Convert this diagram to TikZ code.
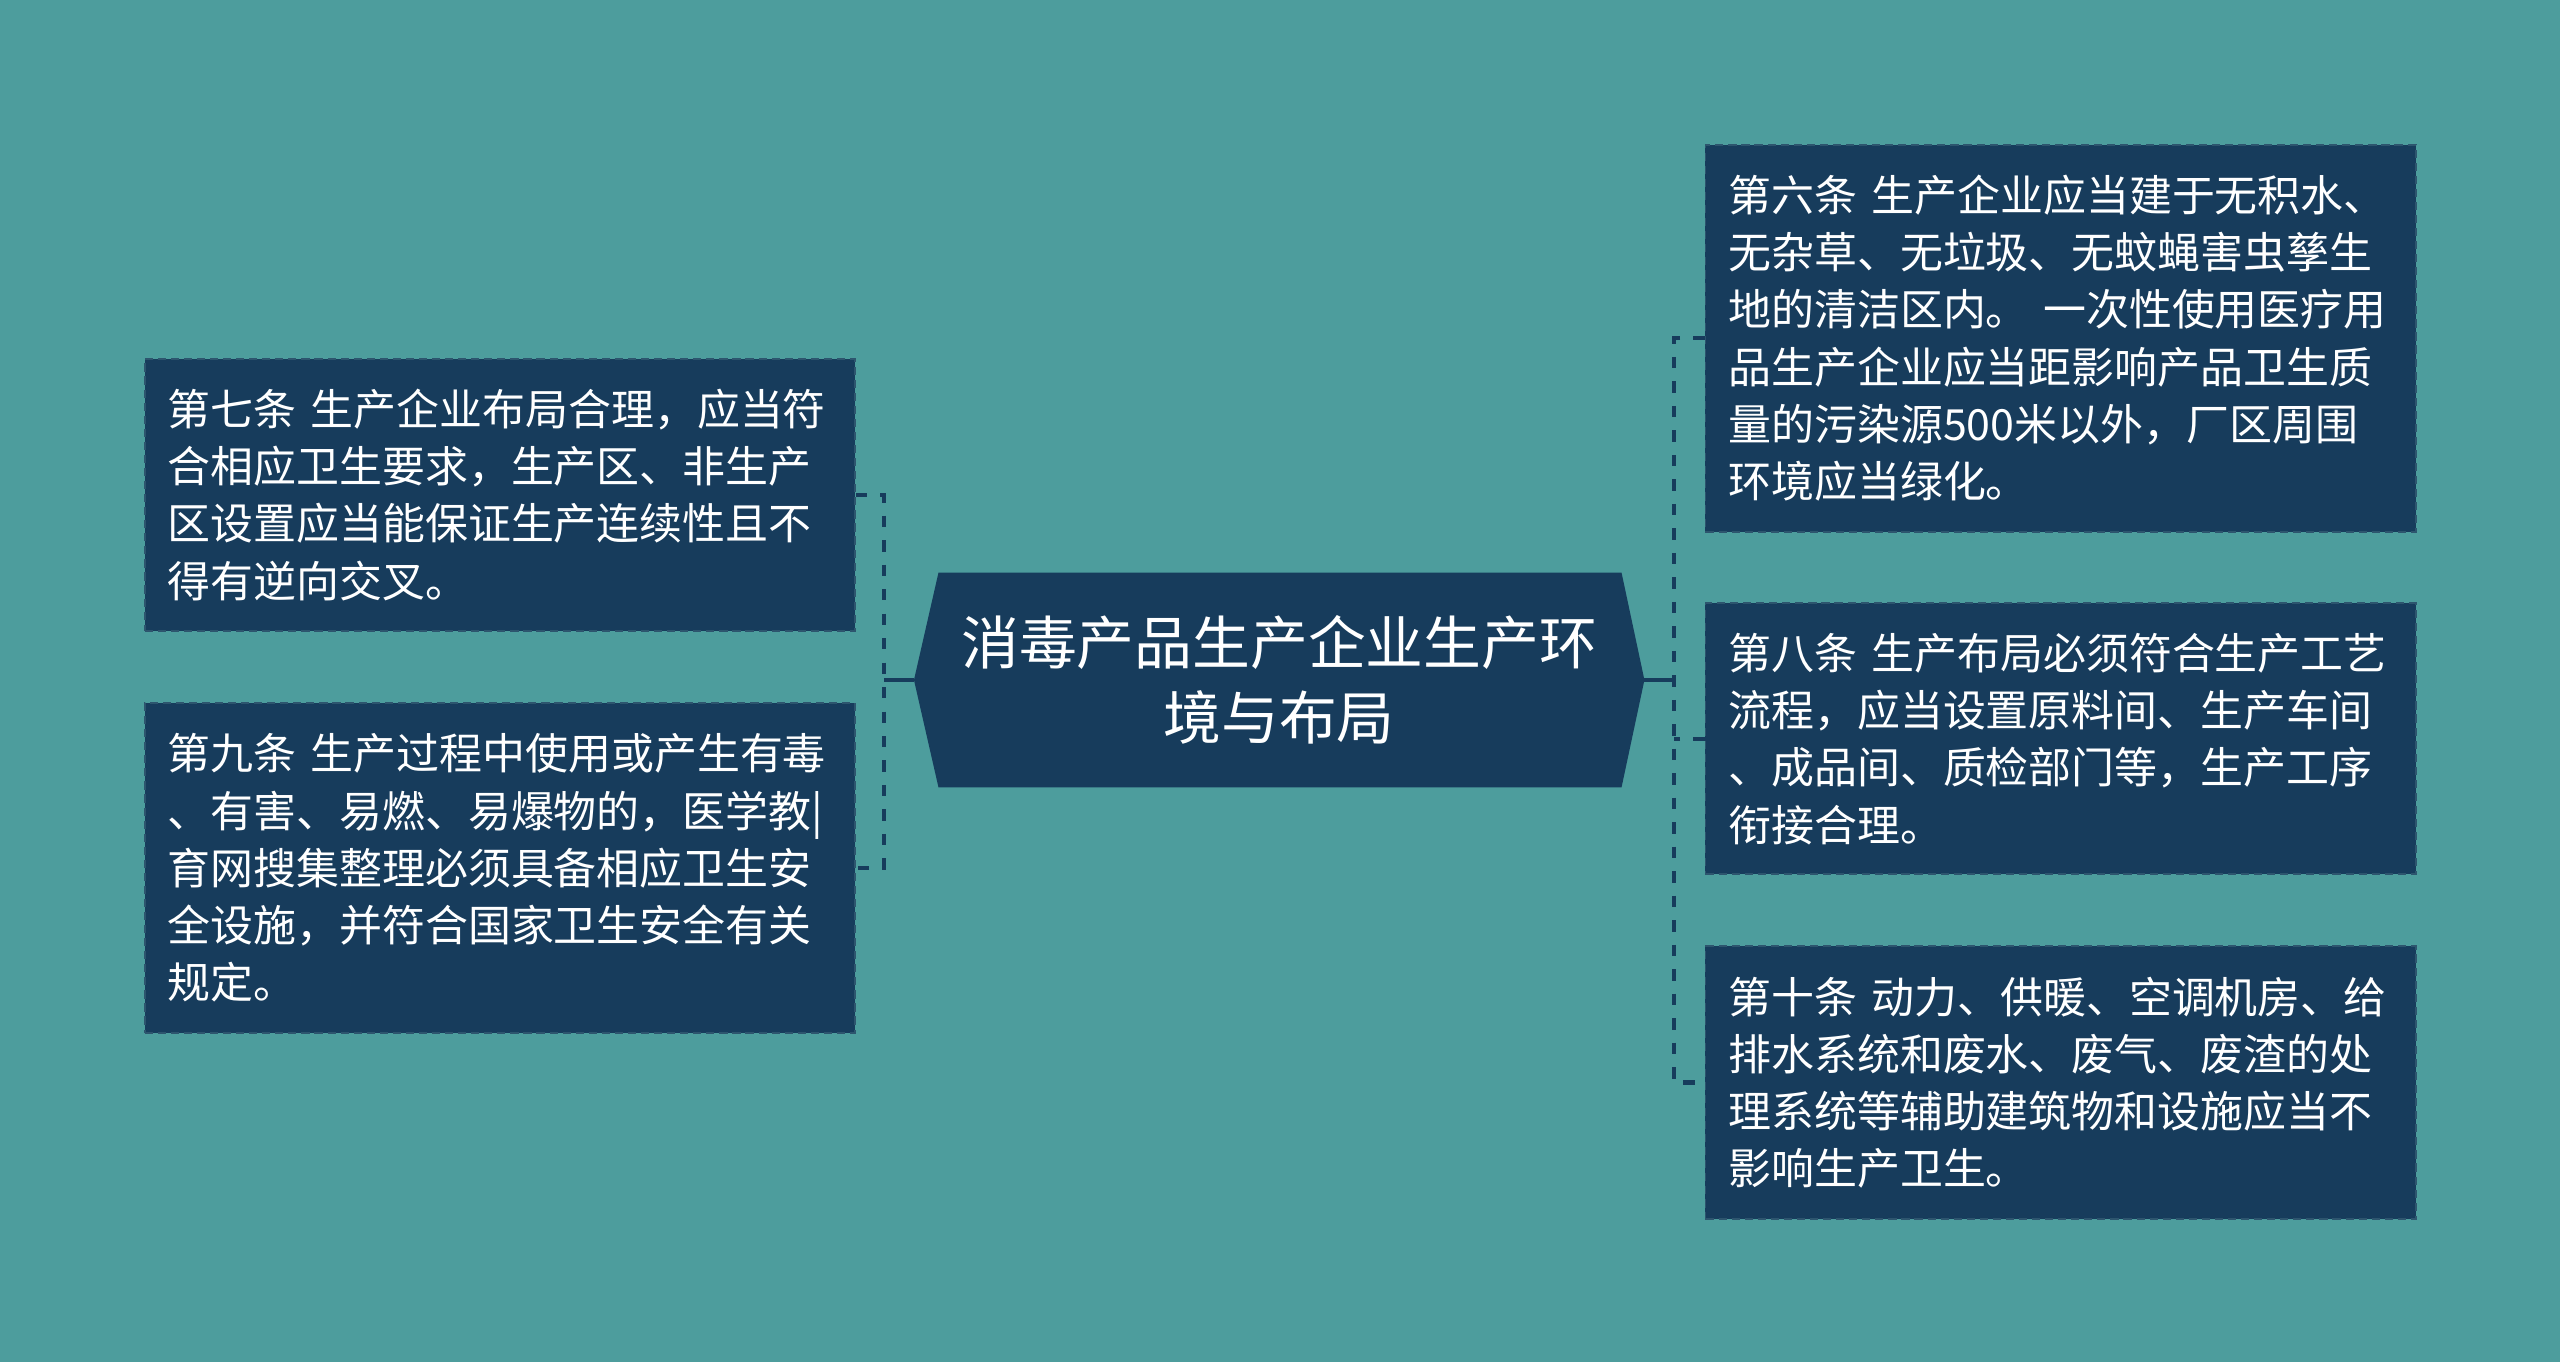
\documentclass[tikz,border=0pt]{standalone}
\usepackage{fontspec}
\newfontfamily\cjk{Noto Sans CJK SC}
\usetikzlibrary{backgrounds}
\definecolor{bgteal}{RGB}{77,157,157}
\definecolor{navy}{RGB}{23,60,92}
\definecolor{navyedge}{RGB}{45,85,110}
\tikzset{
  itembox/.style={fill=navy, draw=navyedge, dashed, dash pattern=on 5pt off 3pt, line width=1.2pt,
    text=white, font=\cjk\fontsize{26.3}{35}\selectfont, align=left,
    text width=407pt, inner xsep=14pt, inner ysep=0pt, anchor=north west},
  centertext/.style={text=white, font=\cjk\fontsize{35.4}{46}\selectfont, align=center,
    minimum width=447pt, minimum height=131pt, inner sep=0pt},
  conn/.style={draw=navy, line width=2.6pt, dash pattern=on 7pt off 8pt},
  connsolid/.style={draw=navy, line width=2.6pt}
}
\begin{document}
\begin{tikzpicture}[x=1pt,y=-1pt]
\useasboundingbox (0,0) rectangle (1568,834);
% center
\node[centertext] (c) at (783.5,416.5) {消毒产品生产企业生产环\\境与布局};
% boxes
\node[itembox, minimum height=167pt] (b7) at (88,219) {第七条 生产企业布局合理，应当符\\合相应卫生要求，生产区、非生产\\区设置应当能保证生产连续性且不\\得有逆向交叉。};
\node[itembox, minimum height=202pt] (b9) at (88,430) {第九条 生产过程中使用或产生有毒\\、有害、易燃、易爆物的，医学教|\\育网搜集整理必须具备相应卫生安\\全设施，并符合国家卫生安全有关\\规定。};
\node[itembox, minimum height=237pt] (b6) at (1044,88) {第六条 生产企业应当建于无积水、\\无杂草、无垃圾、无蚊蝇害虫孳生\\地的清洁区内。 一次性使用医疗用\\品生产企业应当距影响产品卫生质\\量的污染源500米以外，厂区周围\\环境应当绿化。};
\node[itembox, minimum height=166pt] (b8) at (1044,369) {第八条 生产布局必须符合生产工艺\\流程，应当设置原料间、生产车间\\、成品间、质检部门等，生产工序\\衔接合理。};
\node[itembox, minimum height=167pt] (b10) at (1044,579) {第十条 动力、供暖、空调机房、给\\排水系统和废水、废气、废渣的处\\理系统等辅助建筑物和设施应当不\\影响生产卫生。};
% junctions
\coordinate (jl) at (541.5,416.5);
\coordinate (jr) at (1025.5,416.5);
% connectors
\draw[conn] (b7.east) -| (jl) |- (b9.east);
\draw[connsolid] (c.west) -- (jl);
\draw[conn] (b6.west) -| (jr) |- (b10.west);
\draw[conn] (b8.west) -- (jr |- b8.west);
\draw[connsolid] (c.east) -- (jr);
\begin{scope}[on background layer]
\fill[bgteal] (0,0) rectangle (1568,834);
\fill[navy] ([xshift=15pt]c.north west) -- ([xshift=-14pt]c.north east) -- (c.east)
  -- ([xshift=-14pt]c.south east) -- ([xshift=15pt]c.south west) -- (c.west) -- cycle;
\end{scope}
\end{tikzpicture}
\end{document}
